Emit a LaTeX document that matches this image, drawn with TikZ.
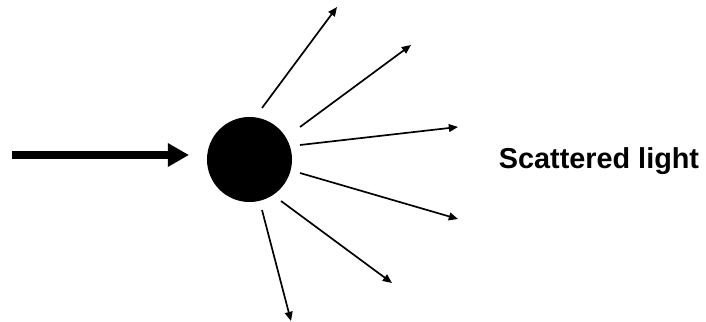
\documentclass[tikz,border=0pt]{standalone}
\usepackage{fontspec}
\setmainfont{Liberation Sans}
\usetikzlibrary{positioning, arrows.meta}

\begin{document}
\begin{tikzpicture}[x=0.025cm, y=-0.025cm,
  particle/.style={circle, fill=black, minimum size=2.125cm, inner sep=0pt},
  beam/.style={line width=0.2cm, -{Triangle[length=0.53cm, width=0.56cm]}},
  ray/.style={line width=1.2pt, -{Triangle[length=6.5pt, width=5.5pt]}}]
\useasboundingbox (0,0) rectangle (706,322);
\node[particle] (p) at (249.5,159.5) {};
\coordinate (in) at (12,155);
\coordinate (tip) at (189,155);
\draw[beam] (in) -- (tip);
% scattered rays
\foreach \i/\sx/\sy/\ex/\ey in {1/262/108/337/7, 2/300/127/411/45, 3/300/145/458/127,
    4/300/173/458/219, 5/281/201/392/283, 6/262/210/291/321}{
  \coordinate (s\i) at (\sx,\sy);
  \coordinate (e\i) at (\ex,\ey);
  \draw[ray] (s\i) -- (e\i);
}
\node[font=\bfseries\fontsize{20.5}{24}\selectfont] (lbl) at (599,161) {Scattered light};
\end{tikzpicture}
\end{document}
